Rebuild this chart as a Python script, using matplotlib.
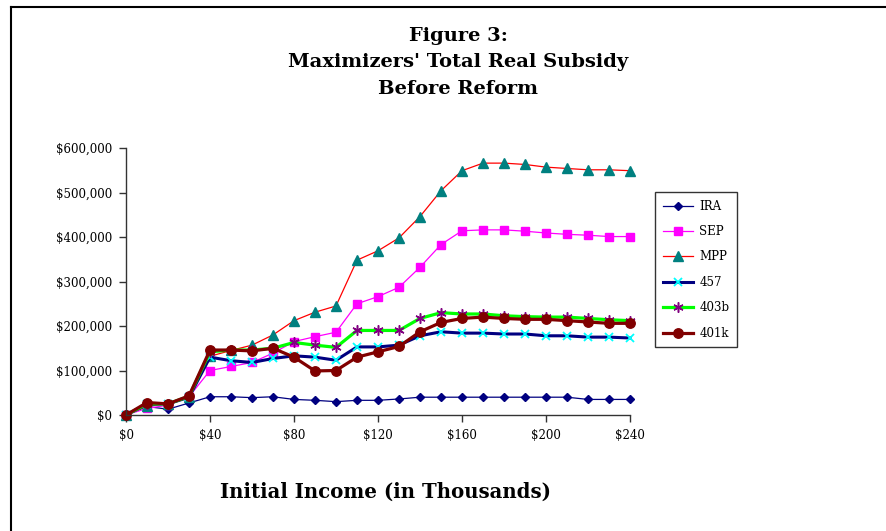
import matplotlib
matplotlib.use("Agg")
import matplotlib.pyplot as plt
from matplotlib.lines import Line2D
from matplotlib.ticker import FuncFormatter

income = [0, 10, 20, 30, 40, 50, 60, 70, 80, 90, 100, 110, 120, 130, 140, 150,
          160, 170, 180, 190, 200, 210, 220, 230, 240]

ira = [0, 19000, 13000, 27000, 41000, 41000, 39000, 41000, 35000, 33000, 30000, 33000, 33000,
       36000, 40000, 40000, 40000, 40000, 40000, 40000, 40000, 40000, 35000, 35000, 35000]
sep = [0, 15000, 22000, 41000, 100000, 109000, 118000, 139000, 165000, 176000, 186000, 250000,
       266000, 287000, 332000, 383000, 414000, 416000, 416000, 413000, 409000, 406000, 404000,
       401000, 401000]
mpp = [0, 20000, 25000, 40000, 132000, 145000, 157000, 180000, 212000, 231000, 245000, 348000,
       369000, 398000, 446000, 504000, 549000, 566000, 566000, 563000, 557000, 554000, 551000,
       551000, 549000]
f457 = [0, 24000, 25000, 40000, 130000, 122000, 118000, 127000, 133000, 130000, 123000, 153000,
        153000, 157000, 178000, 187000, 184000, 184000, 182000, 182000, 178000, 178000, 175000,
        175000, 173000]
f403b = [0, 25000, 25000, 42000, 142000, 146000, 146000, 150000, 163000, 157000, 152000, 190000,
         190000, 190000, 217000, 230000, 227000, 227000, 223000, 221000, 220000, 220000, 217000,
         214000, 212000]
f401k = [0, 28000, 25000, 43000, 146000, 146000, 144000, 150000, 130000, 99000, 100000, 130000,
         142000, 154000, 187000, 208000, 217000, 220000, 217000, 215000, 215000, 212000, 209000,
         206000, 206000]

serif = "DejaVu Serif"

fig = plt.figure(figsize=(8.86, 5.31), dpi=100)
fig.patch.set_facecolor("white")
ax = fig.add_axes([126 / 886, 1 - 415 / 531, (630 - 126) / 886, (415 - 148) / 531])

ax.plot(income, ira, color="#000080", lw=0.9, marker="D", ms=4.5,
        mfc="#000080", mec="#000080", label="IRA", clip_on=False)
ax.plot(income, sep, color="#FF00FF", lw=0.9, marker="s", ms=6.3,
        mfc="#FF00FF", mec="#FF00FF", label="SEP", clip_on=False)
ax.plot(income, mpp, color="#FF0000", lw=0.9, marker="^", ms=7,
        mfc="#008080", mec="#008080", label="MPP", clip_on=False)
ax.plot(income, f457, color="#000080", lw=2.2, marker="x", ms=5.8, mew=1.3,
        mec="#00FFFF", label="457", clip_on=False)
ax.plot(income, f403b, color="#00FF00", lw=2.3, marker=(6, 2, 0), ms=7.3, mew=1.1,
        mec="#800080", label="403b", clip_on=False)
ax.plot(income, f401k, color="#800000", lw=2.3, marker="o", ms=6.8,
        mfc="#800000", mec="#800000", label="401k", clip_on=False)

ax.set_xlim(0, 240)
ax.set_ylim(0, 600000)
ax.set_xticks(range(0, 241, 40))
ax.set_yticks(range(0, 600001, 100000))
ax.xaxis.set_major_formatter(FuncFormatter(lambda v, p: f"${int(v)}"))
ax.yaxis.set_major_formatter(FuncFormatter(lambda v, p: f"${int(v):,}"))
for s in ("top", "right"):
    ax.spines[s].set_visible(False)
for s in ("left", "bottom"):
    ax.spines[s].set_color("#333333")
    ax.spines[s].set_linewidth(1.0)
ax.tick_params(direction="out", length=5, width=1, color="#333333",
               labelsize=8.5, pad=5)
for lab in ax.get_xticklabels() + ax.get_yticklabels():
    lab.set_fontfamily(serif)

leg = ax.legend(loc="upper left", bbox_to_anchor=(655 / 886, 1 - 192 / 531),
                bbox_transform=fig.transFigure, frameon=True, fancybox=False,
                prop={"family": serif, "size": 8.5}, handlelength=2.6,
                borderpad=0.65, labelspacing=1.05, handletextpad=0.5,
                borderaxespad=0)
leg.get_frame().set_edgecolor("black")
leg.get_frame().set_linewidth(1.0)

fig.text(458 / 886, 1 - 36 / 531, "Figure 3:", ha="center", va="center",
         fontsize=14, fontweight="bold", family=serif)
fig.text(458 / 886, 1 - 62 / 531, "Maximizers' Total Real Subsidy", ha="center",
         va="center", fontsize=14, fontweight="bold", family=serif)
fig.text(458 / 886, 1 - 89 / 531, "Before Reform", ha="center", va="center",
         fontsize=14, fontweight="bold", family=serif)
fig.text(385 / 886, 1 - 492 / 531, "Initial Income (in Thousands)", ha="center",
         va="center", fontsize=14.2, fontweight="bold", family=serif)

fig.add_artist(Line2D([10.5 / 886, 1], [1 - 6.5 / 531, 1 - 6.5 / 531],
                      transform=fig.transFigure, color="black", lw=1.5))
fig.add_artist(Line2D([10.5 / 886, 10.5 / 886], [0, 1 - 6.5 / 531],
                      transform=fig.transFigure, color="black", lw=1.5))

fig.savefig("out.png", dpi=100)
